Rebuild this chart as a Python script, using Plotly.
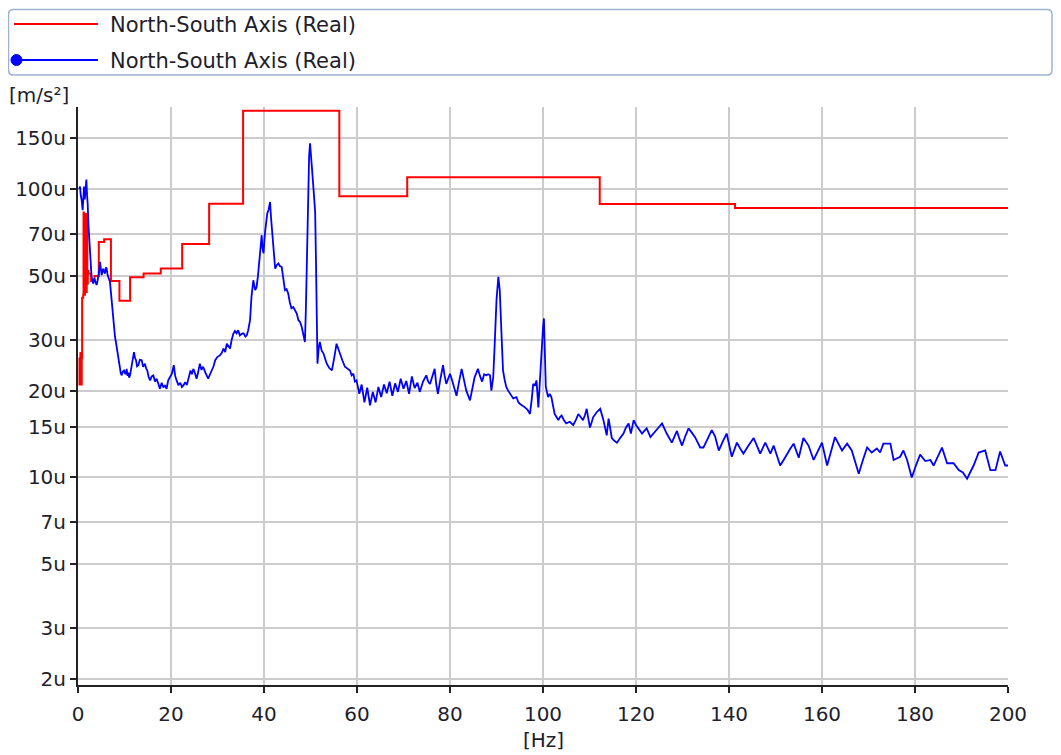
import plotly.graph_objects as go

# ---------------- data ----------------
series_name = "North-South Axis (Real)"

# red stair (band levels, value holds from each start frequency)
red_f = [0.25, 0.32, 0.38, 0.45, 0.52, 0.58, 0.65, 0.72, 0.80, 0.89, 1.12, 1.19, 1.26, 1.33,
         1.41, 1.49, 1.58, 1.68, 1.78, 1.88, 2.00, 2.11, 2.24, 2.82, 3.55, 4.47, 5.62, 7.08,
         8.91, 11.2, 14.1, 17.8, 22.4, 28.2, 35.5, 44.7, 56.2, 70.8, 89.1, 112.2, 141.3, 178.0, 200.0]
red_v = [26, 21, 25, 21, 27, 21, 24, 21, 26, 42, 43, 83, 44, 80,
         43, 78, 45, 82, 44, 79, 47, 52, 51, 48, 50, 65.5, 67, 48,
         41, 49.5, 51, 53, 64.5, 89, 187, 187, 94.5, 110, 110, 88.7, 86, 86, 86]

# blue spectrum
blue_f = [0.25, 0.43, 0.6, 0.79, 1.0, 1.15, 1.3, 1.45, 1.58, 1.8, 1.95, 2.08, 2.25, 2.44, 2.6, 2.73,
          2.9, 3.08, 3.3, 3.5, 3.75, 4.0, 4.2, 4.37, 4.55, 4.73, 4.9, 5.09, 5.25, 5.45, 5.62, 5.81,
          6.0, 6.17, 6.35, 6.53, 6.7, 6.88, 7.05, 7.24, 7.4, 7.6, 7.8, 7.96, 8.15, 8.32, 8.5, 8.68,
          8.85, 9.04, 9.2, 9.4, 9.65, 9.9, 10.2, 10.47, 10.65, 10.83, 11.0, 11.19, 11.4, 11.54, 11.8,
          12.04, 12.25, 12.48, 12.7, 12.98, 13.3, 13.7, 14.0, 14.4, 14.65, 14.9, 15.2, 15.5, 15.85,
          16.2, 16.55, 16.9, 17.25, 17.6, 18.0, 18.35, 18.7, 19.05, 19.4, 19.8, 20.2, 20.6, 20.9,
          21.2, 21.6, 22.0, 22.35, 22.7, 23.05, 23.4, 23.8, 24.2, 24.5, 24.8, 25.15, 25.5, 25.85,
          26.2, 26.55, 26.9, 27.45, 28.0, 28.4, 28.8, 29.15, 29.5, 30.0, 30.5, 30.9, 31.3, 31.65,
          32.0, 32.35, 32.7, 33.05, 33.4, 33.75, 34.1, 34.45, 34.8, 35.2, 35.6, 36.0, 36.3, 36.6,
          37.0, 37.3, 37.7, 38.1, 38.4, 38.7, 39.0, 39.25, 39.5, 39.7, 39.9, 40.2, 40.45, 40.7,
          41.0, 41.3, 41.5, 41.7, 42.0, 42.2, 42.4, 42.75, 43.1, 43.45, 43.8, 44.15, 44.5, 44.85,
          45.2, 45.55, 45.9, 46.3, 46.7, 47.05, 47.4, 47.75, 48.1, 48.45, 48.8, 49.0, 49.2, 49.35,
          49.5, 49.7, 49.9, 50.1, 50.3, 50.65, 51.0, 51.15, 51.3, 51.5, 51.75, 52.0, 52.4, 52.8,
          53.15, 53.5, 54.0, 54.6, 55.1, 55.6, 55.95, 56.3, 56.85, 57.4, 57.95, 58.5, 58.85, 59.2,
          59.55, 59.9, 60.5, 61.0, 61.6, 62.2, 62.8, 63.4, 64.0, 64.6, 65.2, 65.8, 66.4, 67.0,
          67.6, 68.2, 68.8, 69.4, 70.0, 70.6, 71.2, 71.8, 72.4, 73.0, 73.5, 74.2, 74.9, 75.3, 75.7,
          76.2, 76.7, 77.05, 77.4, 77.95, 78.5, 78.85, 79.2, 79.6, 80.0, 80.35, 80.7, 81.05, 81.4,
          81.95, 82.5, 83.0, 83.5, 84.3, 84.8, 85.3, 85.65, 86.0, 86.45, 86.9, 87.35, 87.8, 88.2,
          88.6, 88.9, 89.3, 89.6, 90.0, 90.4, 90.7, 91.1, 91.4, 91.75, 92.1, 92.5, 92.9, 93.6, 94.3,
          94.65, 95.0, 95.55, 96.1, 96.65, 97.2, 97.55, 97.9, 98.25, 98.6, 99.0, 99.35, 99.7, 100.0,
          100.2, 100.4, 100.6, 101.1, 101.45, 101.8, 102.15, 102.5, 102.9, 103.3, 103.65, 104.0,
          104.5, 105.0, 105.75, 106.5, 107.05, 107.6, 108.1, 108.6, 109.0, 109.4, 109.75, 110.1,
          110.45, 110.8, 111.5, 112.3, 113.0, 113.7, 114.1, 114.8, 115.35, 115.9, 116.6, 117.3,
          117.85, 118.4, 118.9, 119.5, 120.0, 120.5, 121.3, 121.8, 122.3, 123.1, 124.1, 124.85,
          125.6, 126.1, 126.6, 127.7, 128.25, 128.8, 129.35, 129.9, 130.6, 131.3, 132.0, 132.7,
          133.8, 134.5, 135.4, 136.3, 137.0, 137.8, 138.65, 139.5, 140.6, 141.7, 142.4, 143.1,
          144.2, 145.3, 146.0, 146.7, 147.8, 148.9, 149.6, 150.3, 151.0, 151.75, 152.5, 153.2,
          153.9, 155.0, 156.0, 157.1, 158.2, 159.1, 160.0, 161.1, 162.0, 162.8, 164.3, 165.4,
          166.4, 167.15, 167.9, 168.8, 169.7, 170.7, 171.8, 172.5, 173.2, 174.7, 175.4, 176.8,
          177.5, 178.3, 179.3, 180.2, 181.1, 182.2, 183.3, 184.0, 184.9, 185.8, 186.9, 188.3,
          189.4, 190.3, 191.2, 192.6, 193.7, 195.1, 196.2, 197.3, 198.3, 199.4, 200.0]
blue_v = [100, 102, 95, 91.5, 84.5, 97, 102, 92, 96.7, 108, 95, 89, 75, 64.8, 56, 52.5,
          50, 48.3, 47, 49, 48, 46.5, 48, 49.6, 52, 55.9, 52, 50.3, 52, 53, 51.5, 51,
          53.5, 53, 50.5, 49, 48.5, 47.6, 44, 41.2, 38, 36, 33, 30.7, 29.5, 28.3, 27, 26.2,
          25, 24.2, 23, 22.6, 23.3, 23.5, 22.8, 23.8, 22.5, 23.1, 22.2, 22.6, 23.5, 24.8, 26,
          27.2, 26, 25.5, 24.3, 24.5, 25.6, 25.5, 24.2, 24.8, 23.9, 23.5, 22.3, 21.7, 22.4,
          22.6, 21.5, 22.0, 21.2, 20.3, 21.3, 20.5, 20.9, 20.3, 21.7, 22.3, 22.9, 24.5, 22.5,
          21.7, 20.9, 21.3, 20.6, 20.9, 21.4, 20.9, 22, 23.5, 22.8, 23.8, 23, 22.0, 23.2,
          24.8, 23.6, 24.2, 23, 22.0, 22.8, 23.5, 24.3, 25.5, 26.2, 26.5, 27, 28, 27.2,
          29.1, 28.5, 28.0, 30, 31.5, 32.2, 31.6, 32.4, 31.1, 31.5, 31.6, 30.8, 31.1, 32.4,
          35.1, 42.2, 48.3, 44.6, 45.7, 50, 58.1, 64, 69.2, 62, 59.9, 70.2, 76, 82.3,
          85, 90.2, 80, 73, 60.6, 56, 53, 54.5, 55.2, 54, 53.7, 49, 44.6, 45,
          43.5, 40.5, 38.6, 39, 38, 37, 35.1, 34.6, 33.3, 31.5, 29.5, 38, 53.7, 80,
          108.6, 130, 144, 125, 119, 100, 83.3, 60, 41.2, 24.8, 28, 29.5, 27.5, 26.9,
          25.8, 24.8, 24, 23.5, 26, 29.1, 28, 26.9, 25.5, 24.2, 23.8, 23.5, 22.6, 22.9,
          21.5, 21.7, 19.5, 21, 18.2, 20.5, 17.8, 19.8, 18.2, 20.6, 19.0, 21.0, 19.6, 21.5,
          19.2, 21.2, 19.8, 22.0, 20.3, 21.6, 19.5, 22.4, 20.4, 21.3, 19.8, 21.5, 22.6, 21.5, 21.1,
          22.5, 23.8, 21, 19.5, 22, 24.5, 22.5, 21.1, 22, 22.9, 22, 21.1, 20, 19.2,
          21.5, 23.8, 21.8, 20, 18.5, 20.5, 22.3, 23, 23.8, 22.5, 21.5, 22.8, 22.6, 22.8,
          22.6, 20, 22.3, 28.7, 41.2, 49.6, 44.6, 30.7, 23.5, 21.8, 20.6, 20, 19.5, 18.8, 19.0,
          18.3, 18, 17.8, 17.5, 17.2, 16.6, 18.5, 21.1, 20.8, 21.7, 17.5, 22, 28.7, 33,
          35.6, 27, 20.6, 19, 19.5, 19, 17.8, 16.6, 16.2, 15.8, 16.2, 16.4,
          15.8, 15.4, 15.6, 15.2, 15.8, 16.6, 16.2, 15.8, 16.4, 17.3, 16, 14.9,
          15.5, 16.2, 16.8, 17.3, 15.8, 14, 16, 13.7, 13.4, 13.2, 13.7, 14.2,
          14.9, 15.4, 14.2, 15.8, 15.2, 14.8, 14.2, 14.5, 14.8, 13.8, 14.5, 14.9,
          15.4, 14.8, 14.2, 13.2, 13.8, 14.5, 13.6, 12.9, 13.9, 14.8, 14.3, 13.8,
          12.7, 12.7, 13.6, 14.6, 13.9, 12.4, 13.3, 14.2, 11.8, 13.2, 12.6, 12.1,
          12.9, 13.7, 12.9, 12.1, 13.2, 12.1, 12.9, 11.9, 11.0, 11.5, 12.1, 12.6,
          13.1, 11.7, 13.7, 12.9, 11.5, 12.3, 13.2, 11.0, 12.4, 13.8, 12.4, 13.1,
          12.4, 11.4, 10.3, 11.5, 12.7, 12.2, 12.6, 12.2, 13.1, 13.1, 11.5, 11.8,
          12.4, 11.5, 10.0, 11, 12.0, 11.4, 11.5, 11.0, 11.8, 12.7, 11.2, 11.2,
          10.6, 10.4, 9.9, 11.0, 12.2, 12.4, 10.6, 10.6, 12.3, 11.0, 11.0]

y_tick_vals = [2, 3, 5, 7, 10, 15, 20, 30, 50, 70, 100, 150]
y_tick_text = [f"{v}u" for v in y_tick_vals]
x_tick_vals = list(range(0, 201, 20))
x_unit = "[Hz]"
y_unit = "[m/s²]"

# ---------------- layout helpers ----------------
# the page body adds an 8px offset; figure coordinates = window coordinates - OFF
OFF = 8
W, H = 1061 - OFF, 755 - OFF
L, R, T, B = 78 - OFF, 53, 107 - OFF, 70
PW, PH = W - L - R, H - T - B
FONT = "DejaVu Sans"
TXT = "#1e1e2c"


def px(x):
    """window pixel x -> paper coordinate"""
    return (x - OFF - L) / PW


def py(y):
    """window pixel y -> paper coordinate"""
    return (H - B - (y - OFF)) / PH


fig = go.Figure()
fig.add_trace(go.Scatter(x=red_f, y=red_v, mode="lines", line=dict(color="#ff0000", width=2, shape="hv"),
                         name=series_name, showlegend=False))
fig.add_trace(go.Scatter(x=blue_f, y=blue_v, mode="lines", line=dict(color="#0000ff", width=1.8),
                         name=series_name, showlegend=False))

# custom legend box (rounded)
x0, x1, y0, y1, r = 8.5, 1052, 9.5, 75, 5
path = (f"M {px(x0 + r)} {py(y0)} L {px(x1 - r)} {py(y0)} Q {px(x1)} {py(y0)} {px(x1)} {py(y0 + r)} "
        f"L {px(x1)} {py(y1 - r)} Q {px(x1)} {py(y1)} {px(x1 - r)} {py(y1)} "
        f"L {px(x0 + r)} {py(y1)} Q {px(x0)} {py(y1)} {px(x0)} {py(y1 - r)} "
        f"L {px(x0)} {py(y0 + r)} Q {px(x0)} {py(y0)} {px(x0 + r)} {py(y0)} Z")
shapes = [
    dict(type="path", xref="paper", yref="paper", path=path, line=dict(color="#9db3cf", width=1.5),
         fillcolor="rgba(0,0,0,0)"),
    dict(type="line", xref="paper", yref="paper", x0=px(14), x1=px(98), y0=py(24), y1=py(24),
         line=dict(color="#ff0000", width=2)),
    dict(type="line", xref="paper", yref="paper", x0=px(14), x1=px(98), y0=py(60), y1=py(60),
         line=dict(color="#0000ff", width=2)),
    dict(type="circle", xref="paper", yref="paper", x0=px(11), x1=px(22), y0=py(54.5), y1=py(65.5),
         line=dict(color="#0000ff", width=1), fillcolor="#0000ff"),
]
annotations = [
    dict(xref="paper", yref="paper", x=px(108), y=py(25), text=series_name, showarrow=False,
         xanchor="left", yanchor="middle", font=dict(family=FONT, size=21, color=TXT)),
    dict(xref="paper", yref="paper", x=px(108), y=py(61), text=series_name, showarrow=False,
         xanchor="left", yanchor="middle", font=dict(family=FONT, size=21, color=TXT)),
    dict(xref="paper", yref="paper", x=px(7), y=py(95), text=y_unit, showarrow=False,
         xanchor="left", yanchor="middle", font=dict(family=FONT, size=20, color=TXT)),
    dict(xref="paper", yref="paper", x=px(543), y=py(740), text=x_unit, showarrow=False,
         xanchor="center", yanchor="middle", font=dict(family=FONT, size=20, color=TXT)),
]

fig.update_layout(
    width=W, height=H,
    margin=dict(l=L, r=R, t=T, b=B, pad=0, autoexpand=False),
    paper_bgcolor="white", plot_bgcolor="white",
    font=dict(family=FONT, size=20, color=TXT),
    shapes=shapes, annotations=annotations,
    showlegend=False,
)
fig.update_xaxes(range=[0, 200], tickvals=x_tick_vals, showgrid=True, gridcolor="#cccccc", gridwidth=1.5,
                 showline=True, linecolor="#222222", linewidth=2, ticks="outside", ticklen=6,
                 tickwidth=1.5, tickcolor="#222222", zeroline=False, ticklabelstandoff=4,
                 automargin=False, tickfont=dict(family=FONT, size=20, color=TXT))
fig.update_yaxes(type="log", range=[0.2802, 2.2847], tickvals=y_tick_vals, ticktext=y_tick_text,
                 showgrid=True, gridcolor="#cccccc", gridwidth=1.5,
                 showline=True, linecolor="#222222", linewidth=2, ticks="outside", ticklen=6,
                 tickwidth=1.5, tickcolor="#222222", zeroline=False, automargin=False,
                 tickfont=dict(family=FONT, size=20, color=TXT))

fig.write_html("out.html")
